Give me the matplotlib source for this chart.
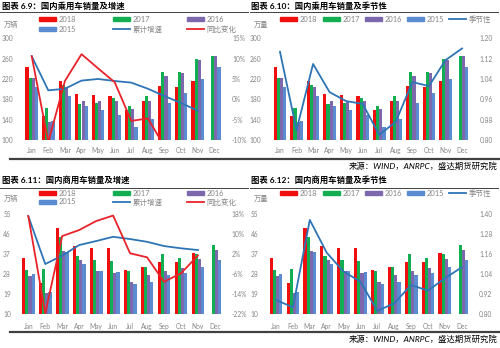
import matplotlib.pyplot as plt
import numpy as np
from matplotlib.patches import Rectangle
from matplotlib.lines import Line2D
from matplotlib.ticker import FuncFormatter

plt.rcParams['font.family'] = ['Lato', 'Noto Sans CJK SC', 'DejaVu Sans']

W, H = 500, 348
months = ['Jan', 'Feb', 'Mar', 'Apr', 'May', 'Jun', 'Jul', 'Aug', 'Sep', 'Oct', 'Nov', 'Dec']
years = ['2018', '2017', '2016', '2015']
bar_colors = ['#F00F0F', '#14AE52', '#7D68AD', '#5B8BD0']
nan = np.nan

# 乘用车销量 (万辆)
pv_2018 = [244, 147, 216, 191, 188, 187, 159, 177, 206, 204, 217, nan]
pv_2017 = [222, 162, 208, 171, 173, 182, 167, 187, 234, 234, 259, 265]
pv_2016 = [221, 136, 204, 177, 177, 177, 160, 177, 226, 232, 258, 265]
pv_2015 = [204, 138, 187, 166, 159, 150, 126, 141, 173, 192, 219, 243]
pv_cum = [10.6, 2.2, 2.6, 4.6, 5.0, 4.5, 4.1, 2.6, 0.8, -0.9, -2.8, nan]
pv_yoy = [10.6, -10.5, 4.5, 11.1, 7.6, 4.2, -5.3, -4.7, -11.6, nan, nan, nan]
pv_season = [1.147, 0.839, 1.099, 0.988, 0.953, 0.942, 0.820, 0.872, 1.028, 1.012, 1.114, 1.160]

# 商用车销量 (万辆)
cv_2018 = [35.2, 24.0, 49.0, 40.7, 40.0, 40.0, 29.9, 31.4, 33.4, 33.4, 37.7, nan]
cv_2017 = [29.9, 30.3, 44.9, 36.2, 34.4, 34.1, 29.3, 31.4, 37.0, 35.3, 37.1, 41.2]
cv_2016 = [27.2, 19.7, 38.5, 34.4, 29.6, 28.7, 24.5, 27.7, 29.6, 30.7, 34.7, 39.0]
cv_2015 = [28.1, 20.2, 37.9, 32.6, 29.6, 29.2, 23.6, 24.7, 27.7, 28.4, 31.1, 34.4]
cv_cum = [17.3, -1.9, 1.5, 5.7, 7.3, 9.0, 8.1, 7.0, 5.3, 4.4, 3.7, nan]
cv_yoy = [17.3, -21.6, 9.3, 11.7, 15.3, 17.5, 2.4, 0.8, -9.0, -5.6, 1.5, nan]
cv_season = [0.886, 0.842, 1.366, 1.170, 1.056, 0.996, 0.820, 0.866, 0.976, 0.942, 1.016, 1.082]

GRAY = '#858585'
BLUE_LINE = '#2E75B6'
RED_LINE = '#E8232B'
TICK_FS = 4.8
LEG_FS = 5.4

fig = plt.figure(figsize=(W / 100, H / 100), dpi=100)


def fx(x):
    return x / W


def fy(y):
    return 1 - y / H


def panel(x0, y0, x1, y1, series, ylim, yticks, y2lim, y2ticks, fmt2, lpad, rpad, bpad):
    ax = fig.add_axes([fx(x0), fy(y1), (x1 - x0) / W, (y1 - y0) / H])
    x = np.arange(12)
    bw = 0.19
    for i, vals in enumerate(series):
        ax.bar(x + (i - 1.5) * bw, vals, bw, color=bar_colors[i], bottom=0)
    ax.set_xlim(-0.5, 11.5)
    ax.set_ylim(*ylim)
    ax.set_yticks(yticks)
    ax.set_xticks(x)
    ax.set_xticklabels(months)
    ax2 = ax.twinx()
    ax2.set_ylim(*y2lim)
    ax2.set_yticks(y2ticks)
    ax2.yaxis.set_major_formatter(FuncFormatter(fmt2))
    for a in (ax, ax2):
        for s in a.spines.values():
            s.set_visible(False)
        a.tick_params(length=0, labelsize=TICK_FS, labelcolor=GRAY)
    ax.tick_params(axis='y', pad=lpad)
    ax.tick_params(axis='x', pad=bpad)
    ax2.tick_params(axis='y', pad=rpad)
    return ax, ax2


def legend_item(x, y, label, color, kind):
    if kind == 'bar':
        fig.patches.append(Rectangle((fx(x), fy(y + 2.3)), 17 / W, 4.6 / H,
                                     transform=fig.transFigure, color=color))
    else:
        fig.lines.append(Line2D([fx(x), fx(x + 17)], [fy(y), fy(y)],
                                transform=fig.transFigure, color=color, lw=1.3))
    fig.text(fx(x + 19.5), fy(y), label, va='center', ha='left', fontsize=LEG_FS, color=GRAY)


pct = lambda v, p: '%d%%' % v
dec = lambda v, p: '%.2f' % v

# 图表 6.9
ax, ax2 = panel(23.4, 38.3, 222.6, 140, [pv_2018, pv_2017, pv_2016, pv_2015],
                (100, 300), range(100, 301, 40), (-10, 15), range(-10, 16, 5), pct, 7.5, 6.8, 5)
ax2.plot(np.arange(12), pv_cum, color=BLUE_LINE, lw=1.3)
ax2.plot(np.arange(12), pv_yoy, color=RED_LINE, lw=1.3)

# 图表 6.10
ax, ax2 = panel(271.7, 38.3, 470.3, 140, [pv_2018, pv_2017, pv_2016, pv_2015],
                (100, 300), range(100, 301, 40), (0.80, 1.20), np.arange(0.80, 1.201, 0.08), dec, 7.5, 6.5, 5)
ax2.plot(np.arange(12), pv_season, color=BLUE_LINE, lw=1.3)

# 图表 6.11
ax, ax2 = panel(19.8, 214.3, 223.4, 314.3, [cv_2018, cv_2017, cv_2016, cv_2015],
                (10, 55), range(10, 56, 9), (-22, 18), range(-22, 19, 8), pct, 6.5, 6, 6)
ax2.plot(np.arange(12), cv_cum, color=BLUE_LINE, lw=1.3)
ax2.plot(np.arange(12), cv_yoy, color=RED_LINE, lw=1.3)

# 图表 6.12
ax, ax2 = panel(267.6, 214.3, 470.2, 314.3, [cv_2018, cv_2017, cv_2016, cv_2015],
                (10, 55), range(10, 56, 9), (0.80, 1.40), np.arange(0.80, 1.401, 0.12), dec, 6.5, 6.5, 6)
ax2.plot(np.arange(12), cv_season, color=BLUE_LINE, lw=1.3)

# 标题、单位、图例
titles = [(2, 6, '图表 6.9：国内乘用车销量及增速'), (251, 6, '图表 6.10：国内乘用车销量及季节性'),
          (2, 180, '图表 6.11：国内商用车销量及增速'), (251, 180, '图表 6.12：国内商用车销量及季节性')]
for tx, ty, t in titles:
    fig.text(fx(tx), fy(ty), t, fontsize=6, fontweight='bold', va='center', ha='left')
for ux, uy in [(0, 12), (250, 12), (0, 188), (250, 188)]:
    fig.lines.append(Line2D([fx(ux), fx(ux + 248)], [fy(uy), fy(uy)],
                            transform=fig.transFigure, color='#404040', lw=0.7))
for sy in (159, 332):
    fig.lines.append(Line2D([fx(10), fx(500)], [fy(sy), fy(sy)],
                            transform=fig.transFigure, color='#404040', lw=1.6))
    fig.text(fx(497), fy(sy + 7), '来源：WIND，ANRPC，盛达期货研究院', fontsize=6,
             style='italic', ha='right', va='center')

for ux, uy, unit in [(4, 24, '万辆'), (254, 24, '万量'), (4, 198, '万辆'), (254, 198, '万量')]:
    fig.text(fx(ux), fy(uy), unit, fontsize=5.2, color=GRAY, va='center')

for r1, r2 in [(19, 29), (193, 202)]:
    legend_item(39, r1, years[0], bar_colors[0], 'bar')
    legend_item(113, r1, years[1], bar_colors[1], 'bar')
    legend_item(187, r1, years[2], bar_colors[2], 'bar')
    legend_item(39, r2, years[3], bar_colors[3], 'bar')
    legend_item(113, r2, '累计增速', BLUE_LINE, 'line')
    legend_item(187, r2, '同比变化', RED_LINE, 'line')

for ry in (19, 193):
    for lx, yr, c in zip([280, 323, 365, 407], years, bar_colors):
        legend_item(lx, ry, yr, c, 'bar')
    legend_item(449, ry, '季节性', BLUE_LINE, 'line')

fig.savefig('out.png', dpi=100)
